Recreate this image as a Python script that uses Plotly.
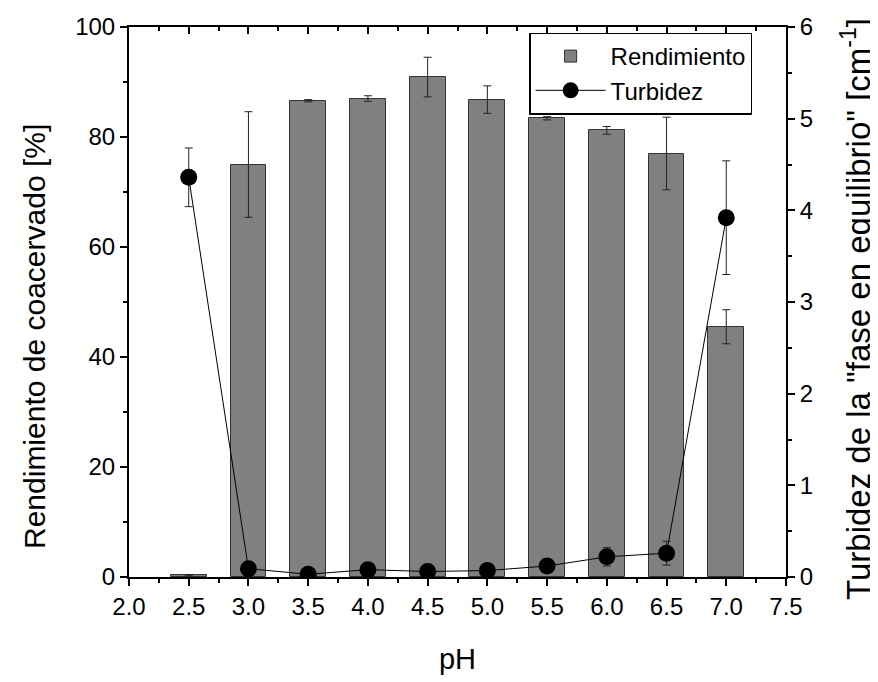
import plotly.graph_objects as go

ph = [2.5, 3.0, 3.5, 4.0, 4.5, 5.0, 5.5, 6.0, 6.5, 7.0]
rendimiento = [0.3, 75.0, 86.6, 87.0, 90.9, 86.8, 83.4, 81.2, 77.0, 45.5]
rendimiento_err = [0.1, 9.6, 0.2, 0.5, 3.6, 2.5, 0.3, 0.7, 6.6, 3.1]
turbidez = [4.36, 0.09, 0.03, 0.08, 0.06, 0.07, 0.12, 0.22, 0.26, 3.92]
turbidez_err = [0.32, 0.02, 0.01, 0.02, 0.01, 0.02, 0.03, 0.10, 0.13, 0.62]

x_ticks = [2.0, 2.5, 3.0, 3.5, 4.0, 4.5, 5.0, 5.5, 6.0, 6.5, 7.0, 7.5]
x_ticklabels = [f"{v:.1f}" for v in x_ticks]

left_title = "Rendimiento de coacervado [%]"
right_title = 'Turbidez de la "fase en equilibrio" [cm<sup>-1</sup>]'

FONT = "Arial, Liberation Sans, sans-serif"

fig = go.Figure()
fig.add_trace(go.Bar(
    x=ph, y=rendimiento, width=0.3, name="Rendimiento",
    marker=dict(color="#808080", line=dict(color="#333333", width=1)),
    error_y=dict(type="data", array=rendimiento_err, color="#222222", thickness=1, width=4),
    yaxis="y", xaxis="x",
))
fig.add_trace(go.Scatter(
    x=ph, y=turbidez, name="Turbidez", mode="lines+markers",
    line=dict(color="black", width=1),
    marker=dict(color="black", size=17),
    error_y=dict(type="data", array=turbidez_err, color="#222222", thickness=1, width=4),
    yaxis="y2", xaxis="x",
))
# invisible trace so the top mirror axis is drawn
fig.add_trace(go.Scatter(x=[2.0, 7.5], y=[0, 0], xaxis="x2", yaxis="y",
                         mode="markers", marker=dict(opacity=0), showlegend=False,
                         hoverinfo="skip"))

tick_common = dict(showline=True, linecolor="black", linewidth=2,
                   tickwidth=2, tickcolor="black", ticklen=7,
                   showgrid=False, zeroline=False, automargin=False)

fig.update_layout(
    width=870, height=674,
    margin=dict(l=121, r=92, t=19, b=105),
    paper_bgcolor="white", plot_bgcolor="white",
    font=dict(family=FONT, color="black", size=24),
    bargap=0,
    xaxis=dict(
        range=[2.0, 7.5], tickvals=x_ticks, ticktext=x_ticklabels,
        ticks="outside",
        minor=dict(ticks="outside", ticklen=4, tickwidth=2, tickcolor="black", dtick=0.25),
        title=dict(text="pH", font=dict(size=29), standoff=30),
        tickfont=dict(size=24), **tick_common,
    ),
    xaxis2=dict(
        range=[2.0, 7.5], overlaying="x", side="top", tickvals=x_ticks,
        showticklabels=False, ticks="inside",
        minor=dict(ticks="inside", ticklen=4, tickwidth=2, tickcolor="black", dtick=0.25),
        **tick_common,
    ),
    yaxis=dict(
        range=[0, 100], tickvals=[0, 20, 40, 60, 80, 100],
        ticks="outside",
        minor=dict(ticks="outside", ticklen=4, tickwidth=2, tickcolor="black", dtick=10),
        tickfont=dict(size=24), **tick_common,
    ),
    yaxis2=dict(
        range=[0, 6], tickvals=[0, 1, 2, 3, 4, 5, 6], overlaying="y", side="right",
        ticks="outside",
        minor=dict(ticks="outside", ticklen=4, tickwidth=2, tickcolor="black", dtick=0.5),
        tickfont=dict(size=24), **tick_common,
    ),
    legend=dict(
        x=0.609, y=0.99, xanchor="left", yanchor="top",
        bordercolor="black", borderwidth=1.5, bgcolor="white",
        font=dict(size=24), tracegroupgap=0, itemwidth=70,
    ),
    showlegend=True,
    annotations=[
        dict(text=left_title, textangle=-90, xref="paper", yref="paper",
             x=(34 - 129) / 657, y=(577 - 337) / 550, xanchor="center", yanchor="middle",
             showarrow=False, font=dict(size=30, family=FONT, color="black")),
        dict(text=right_title, textangle=-90, xref="paper", yref="paper",
             x=(856 - 129) / 657, y=(577 - 309) / 550, xanchor="center", yanchor="middle",
             showarrow=False, font=dict(size=33, family=FONT, color="black")),
    ],
)

fig.write_html("out.html")
